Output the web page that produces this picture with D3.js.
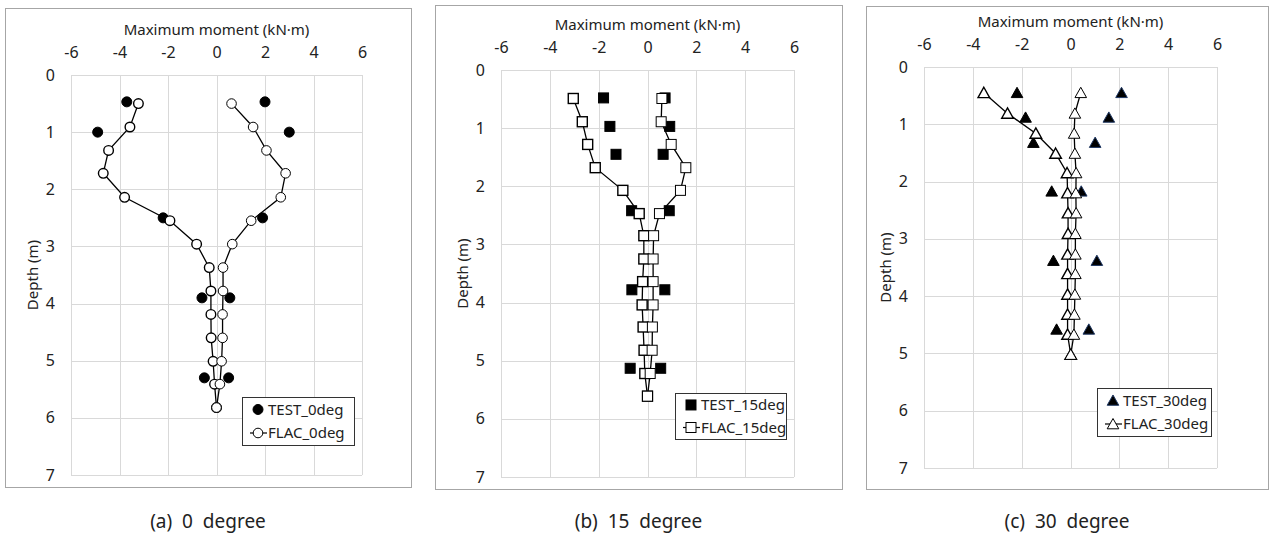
<!DOCTYPE html>
<html>
<head>
<meta charset="utf-8">
<script src="https://cdn.jsdelivr.net/npm/d3@7"></script>
<style>
  body { margin: 0; background: #fff; }
  text { font-family: "Noto Sans", "Open Sans", sans-serif; fill: #222; }
</style>
</head>
<body>
<div id="viz"></div>
<script>
// tick labels
var xTicks = [-6, -4, -2, 0, 2, 4, 6];
var yTicks = [0, 1, 2, 3, 4, 5, 6, 7];

// (a) 0 degree
var flac0Depth = [0.5, 0.91, 1.32, 1.72, 2.14, 2.55, 2.96, 3.37, 3.78, 4.19, 4.6, 5.01, 5.41, 5.82];
var flac0Neg = [-3.22, -3.57, -4.45, -4.67, -3.79, -1.92, -0.82, -0.30, -0.23, -0.23, -0.22, -0.14, -0.08, 0];
var flac0Pos = [0.62, 1.51, 2.06, 2.85, 2.65, 1.43, 0.65, 0.27, 0.27, 0.25, 0.25, 0.21, 0.14, 0];
var test0Depth = [0.47, 1.0, 2.5, 3.9, 5.3];
var test0Neg = [-3.7, -4.9, -2.2, -0.6, -0.5];
var test0Pos = [2.0, 3.0, 1.9, 0.55, 0.5];

// (b) 15 degree
var flac15Depth = [0.49, 0.89, 1.28, 1.68, 2.07, 2.47, 2.85, 3.25, 3.64, 4.04, 4.42, 4.82, 5.22, 5.61];
var flac15Neg = [-3.04, -2.67, -2.45, -2.14, -1.01, -0.34, -0.15, -0.15, -0.20, -0.22, -0.18, -0.14, -0.11, 0];
var flac15Pos = [0.59, 0.56, 0.97, 1.57, 1.35, 0.49, 0.25, 0.23, 0.23, 0.23, 0.20, 0.19, 0.11, 0];
var test15Depth = [0.48, 0.97, 1.45, 2.42, 3.78, 5.13];
var test15Neg = [-1.80, -1.54, -1.29, -0.65, -0.64, -0.71];
var test15Pos = [0.72, 0.91, 0.64, 0.89, 0.71, 0.54];

// (c) 30 degree
var flac30Depth = [0.45, 0.81, 1.16, 1.51, 1.85, 2.2, 2.55, 2.91, 3.27, 3.61, 3.97, 4.32, 4.67, 5.02];
var flac30Neg = [-3.55, -2.58, -1.42, -0.61, -0.14, -0.12, -0.10, -0.10, -0.12, -0.12, -0.12, -0.12, -0.12, 0.01];
var flac30Pos = [0.42, 0.18, 0.15, 0.18, 0.23, 0.22, 0.23, 0.20, 0.20, 0.20, 0.18, 0.16, 0.14, 0.01];
var test30Depth = [0.45, 0.88, 1.32, 2.17, 3.38, 4.58];
var test30Neg = [-2.19, -1.84, -1.52, -0.77, -0.70, -0.57];
var test30Pos = [2.09, 1.57, 1.01, 0.44, 1.08, 0.75];

var W = 1272, H = 536;

var svg = d3.select('#viz')
  .append('svg')
  .attr('width', W)
  .attr('height', H)
  .style('background', '#fff');

// marker shapes, drawn around 0,0
function drawMarker(g, shape, filled, stroke, sw) {
  var fill = filled ? '#000' : '#fff';
  if (shape === 'circle') {
    g.append('circle').attr('r', filled ? 5 : 4.8)
      .attr('fill', fill).attr('stroke', stroke).attr('stroke-width', sw);
  } else if (shape === 'square') {
    g.append('rect').attr('x', -5).attr('y', -5).attr('width', 10).attr('height', 10)
      .attr('fill', fill).attr('stroke', stroke).attr('stroke-width', sw);
  } else {
    g.append('path').attr('d', 'M0,-5.5L5.8,4.8L-5.8,4.8Z')
      .attr('fill', fill).attr('stroke', stroke).attr('stroke-width', sw);
  }
}

// excel style labels: plain hyphen minus
var fmt = function(d) { return String(d); };

var panels = [
  {frame: [5, 8, 411, 487], plot: [71, 362, 75, 475], legend: [242, 397, 112, 48], cap: '(a)  0  degree',
   shape: 'circle', name: '0deg', fd: flac0Depth, fn: flac0Neg, fp: flac0Pos, td: test0Depth, tn: test0Neg, tp: test0Pos},
  {frame: [435, 5, 842, 489], plot: [501, 794, 70, 477], legend: [675, 393, 111, 46], cap: '(b)  15  degree',
   shape: 'square', name: '15deg', fd: flac15Depth, fn: flac15Neg, fp: flac15Pos, td: test15Depth, tn: test15Neg, tp: test15Pos},
  {frame: [866, 6, 1268, 489], plot: [924, 1217, 67, 468], legend: [1097, 388, 114, 48], cap: '(c)  30  degree',
   shape: 'triangle', name: '30deg', fd: flac30Depth, fn: flac30Neg, fp: flac30Pos, td: test30Depth, tn: test30Neg, tp: test30Pos}
];

panels.forEach(function(p) {
  var g = svg.append('g');
  var left = p.plot[0], right = p.plot[1], top = p.plot[2], bottom = p.plot[3];

  // chart frame
  g.append('rect')
    .attr('x', p.frame[0] + 0.5).attr('y', p.frame[1] + 0.5)
    .attr('width', p.frame[2] - p.frame[0]).attr('height', p.frame[3] - p.frame[1])
    .attr('fill', '#fff').attr('stroke', '#a6a6a6').attr('stroke-width', 1);

  var x = d3.scaleLinear().domain([-6, 6]).range([left, right]);
  var y = d3.scaleLinear().domain([0, 7]).range([top, bottom]);

  // gridlines
  g.selectAll('line.vgrid').data(xTicks).enter().append('line')
    .attr('x1', function(d) { return Math.round(x(d)) + 0.5; })
    .attr('x2', function(d) { return Math.round(x(d)) + 0.5; })
    .attr('y1', top).attr('y2', bottom)
    .attr('stroke', '#d9d9d9');
  g.selectAll('line.hgrid').data(yTicks).enter().append('line')
    .attr('y1', function(d) { return Math.round(y(d)) + 0.5; })
    .attr('y2', function(d) { return Math.round(y(d)) + 0.5; })
    .attr('x1', left).attr('x2', right)
    .attr('stroke', '#d9d9d9');

  // axes (labels only, Excel style)
  var xAxis = d3.axisTop(x).tickValues(xTicks).tickFormat(fmt).tickSize(0).tickPadding(0);
  var ax = g.append('g').attr('transform', 'translate(0,' + (top - 17) + ')').call(xAxis);
  ax.attr('font-size', null).attr('font-family', null);
  ax.select('.domain').remove();
  ax.selectAll('text').style('font-size', '16px').attr('fill', '#222');

  var yAxis = d3.axisLeft(y).tickValues(yTicks).tickFormat(fmt).tickSize(0).tickPadding(0);
  var ay = g.append('g').attr('transform', 'translate(' + (left - 16) + ',0)').call(yAxis);
  ay.attr('font-size', null).attr('font-family', null);
  ay.select('.domain').remove();
  ay.selectAll('text').style('font-size', '16px').attr('fill', '#222');

  g.append('text')
    .attr('x', (left + right) / 2).attr('y', top - 40)
    .attr('text-anchor', 'middle').style('font-size', '15px')
    .text('Maximum moment (kN·m)');

  g.append('text')
    .attr('transform', 'translate(' + (left - 33) + ',' + ((top + bottom) / 2) + ') rotate(-90)')
    .attr('text-anchor', 'middle').style('font-size', '15px')
    .text('Depth (m)');

  // TEST points (filled)
  var testPts = [];
  p.td.forEach(function(d, i) {
    testPts.push({v: p.tn[i], d: d, side: 'neg'});
    testPts.push({v: p.tp[i], d: d, side: 'pos'});
  });
  testPts.forEach(function(pt) {
    var m = g.append('g').attr('transform', 'translate(' + x(pt.v) + ',' + y(pt.d) + ')');
    var st = (p.shape === 'triangle' && pt.side === 'pos') ? '#1f3864' : '#000';
    drawMarker(m, p.shape, true, st, 1);
  });

  // FLAC lines + open markers
  var line = d3.line().x(function(d) { return x(d[0]); }).y(function(d) { return y(d[1]); });
  [[p.fn, 1.4], [p.fp, 1]].forEach(function(br) {
    var pts = br[0].map(function(v, i) { return [v, p.fd[i]]; });
    g.append('path').attr('d', line(pts))
      .attr('fill', 'none').attr('stroke', '#000').attr('stroke-width', 1.3);
    pts.forEach(function(pt) {
      var m = g.append('g').attr('transform', 'translate(' + x(pt[0]) + ',' + y(pt[1]) + ')');
      drawMarker(m, p.shape, false, '#000', br[1]);
    });
  });

  // legend
  var L = p.legend;
  var lg = g.append('g');
  lg.append('rect').attr('x', L[0] + 0.5).attr('y', L[1] + 0.5).attr('width', L[2]).attr('height', L[3])
    .attr('fill', '#fff').attr('stroke', '#333').attr('stroke-width', 1);
  var r1 = L[1] + L[3] * 0.26, r2 = L[1] + L[3] * 0.75;
  var m1 = lg.append('g').attr('transform', 'translate(' + (L[0] + 16) + ',' + r1 + ')');
  drawMarker(m1, p.shape, true, p.shape === 'triangle' ? '#1f3864' : '#000', 1);
  lg.append('line').attr('x1', L[0] + 8).attr('x2', L[0] + 25).attr('y1', r2).attr('y2', r2)
    .attr('stroke', '#000').attr('stroke-width', 1.2);
  var m2 = lg.append('g').attr('transform', 'translate(' + (L[0] + 16) + ',' + r2 + ')');
  drawMarker(m2, p.shape, false, '#000', 1);
  lg.append('text').attr('x', L[0] + 26).attr('y', r1).attr('dy', '0.35em')
    .style('font-size', '15px').text('TEST_' + p.name);
  lg.append('text').attr('x', L[0] + 26).attr('y', r2).attr('dy', '0.35em')
    .style('font-size', '15px').text('FLAC_' + p.name);

  // caption
  svg.append('text')
    .attr('x', (p.frame[0] + p.frame[2]) / 2)
    .attr('y', 528)
    .attr('text-anchor', 'middle').style('font-size', '19px')
    .style('white-space', 'pre')
    .text(p.cap);
});
</script>
</body>
</html>
